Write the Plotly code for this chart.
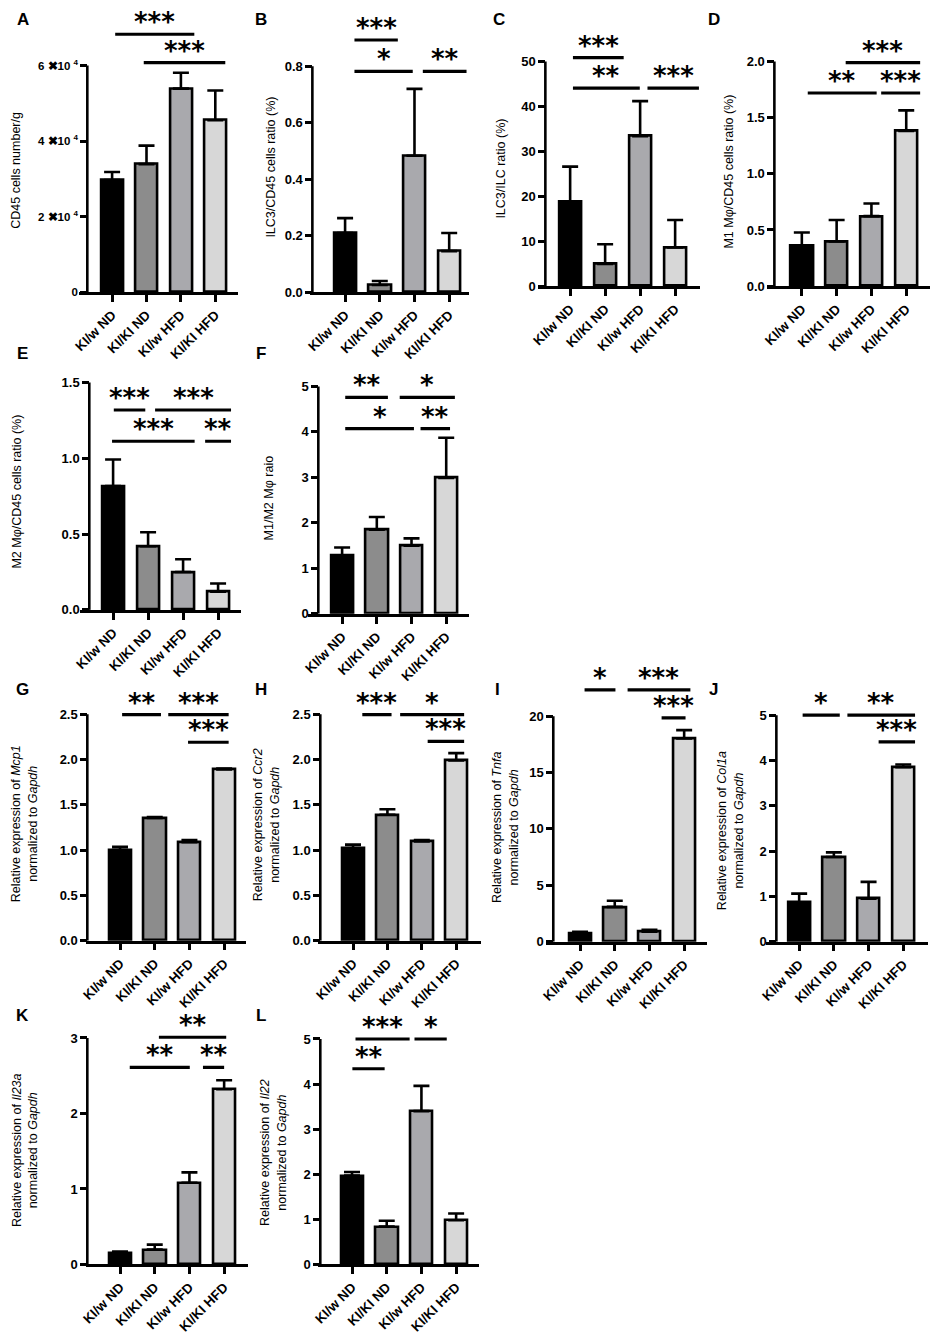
import plotly.graph_objects as go

W, H = 933, 1339
FONT = "Liberation Sans, Arial, sans-serif"

groups = ["KI/w ND", "KI/KI ND", "KI/w HFD", "KI/KI HFD"]
bar_colors = ["#000000", "#8c8c8c", "#a9a9ad", "#d7d7d7"]

# values: bar means and upper SEM
# significance brackets: (from group, to group, height, stars)
a_mean = [29700, 33900, 53900, 45500]
a_sem = [2100, 4900, 4200, 7900]
a_ticks = [0, 20000, 40000, 60000]
a_ticktext = ["0", "2 ✖10 <sup>4</sup>", "4 ✖10 <sup>4</sup>", "6 ✖10 <sup>4</sup>"]
a_sig = [(0.09, 2.39, 68300, "***"), (0.92, 3.29, 60800, "***")]

b_mean = [0.209, 0.025, 0.483, 0.145]
b_sem = [0.053, 0.014, 0.237, 0.064]
b_ticks = [0, 0.2, 0.4, 0.6, 0.8]
b_ticktext = ["0.0", "0.2", "0.4", "0.6", "0.8"]
b_sig = [(0.27, 1.52, 0.893, "***"), (0.27, 1.95, 0.782, "*"), (2.24, 3.5, 0.782, "**")]

c_mean = [18.9, 4.9, 33.4, 8.6]
c_sem = [7.7, 4.4, 7.8, 6.1]
c_ticks = [0, 10, 20, 30, 40, 50]
c_ticktext = ["0", "10", "20", "30", "40", "50"]
c_sig = [(0.08, 1.53, 50.9, "***"), (0.08, 1.99, 44.1, "**"), (2.21, 3.68, 44.1, "***")]

d_mean = [0.358, 0.397, 0.623, 1.382]
d_sem = [0.119, 0.191, 0.112, 0.183]
d_ticks = [0, 0.5, 1.0, 1.5, 2.0]
d_ticktext = ["0.0", "0.5", "1.0", "1.5", "2.0"]
d_sig = [(1.26, 3.4, 1.991, "***"), (0.17, 2.15, 1.72, "**"), (2.28, 3.4, 1.72, "***")]

e_mean = [0.817, 0.42, 0.25, 0.12]
e_sem = [0.175, 0.092, 0.084, 0.054]
e_ticks = [0, 0.5, 1.0, 1.5]
e_ticktext = ["0.0", "0.5", "1.0", "1.5"]
e_sig = [(0.02, 0.92, 1.318, "***"), (1.2, 3.37, 1.318, "***"),
         (-0.03, 2.33, 1.112, "***"), (2.63, 3.37, 1.112, "**")]

f_mean = [1.28, 1.85, 1.5, 2.99]
f_sem = [0.18, 0.28, 0.16, 0.88]
f_ticks = [0, 1, 2, 3, 4, 5]
f_ticktext = ["0", "1", "2", "3", "4", "5"]
f_sig = [(0.09, 1.32, 4.76, "**"), (1.66, 3.25, 4.76, "*"),
         (0.09, 2.07, 4.07, "*"), (2.26, 3.11, 4.07, "**")]

g_mean = [1.0, 1.354, 1.087, 1.89]
g_sem = [0.035, 0.011, 0.023, 0.01]
g_ticks = [0, 0.5, 1.0, 1.5, 2.0, 2.5]
g_ticktext = ["0.0", "0.5", "1.0", "1.5", "2.0", "2.5"]
g_sig = [(0.06, 1.18, 2.496, "**"), (1.39, 3.13, 2.496, "***"), (1.96, 3.13, 2.19, "***")]

h_mean = [1.022, 1.39, 1.095, 1.99]
h_sem = [0.038, 0.06, 0.015, 0.08]
h_ticks = [0, 0.5, 1.0, 1.5, 2.0, 2.5]
h_ticktext = ["0.0", "0.5", "1.0", "1.5", "2.0", "2.5"]
h_sig = [(0.27, 1.12, 2.496, "***"), (1.37, 3.23, 2.496, "*"), (2.17, 3.23, 2.2, "***")]

i_mean = [0.7, 3.08, 0.88, 18.03]
i_sem = [0.18, 0.55, 0.18, 0.73]
i_ticks = [0, 5, 10, 15, 20]
i_ticktext = ["0", "5", "10", "15", "20"]
i_sig = [(0.13, 1.02, 22.34, "*"), (1.37, 3.18, 22.34, "***"), (2.35, 3.04, 19.85, "***")]

j_mean = [0.86, 1.87, 0.95, 3.85]
j_sem = [0.2, 0.1, 0.37, 0.06]
j_ticks = [0, 1, 2, 3, 4, 5]
j_ticktext = ["0", "1", "2", "3", "4", "5"]
j_sig = [(0.1, 1.17, 5.0, "*"), (1.39, 3.34, 5.0, "**"), (2.29, 3.34, 4.41, "***")]

k_mean = [0.149, 0.197, 1.083, 2.32]
k_sem = [0.021, 0.066, 0.137, 0.12]
k_ticks = [0, 1, 2, 3]
k_ticktext = ["0", "1", "2", "3"]
k_sig = [(1.12, 3.06, 3.01, "**"), (0.28, 2.01, 2.61, "**"), (2.39, 3.0, 2.61, "**")]

l_mean = [1.97, 0.84, 3.4, 0.98]
l_sem = [0.08, 0.13, 0.56, 0.15]
l_ticks = [0, 1, 2, 3, 4, 5]
l_ticktext = ["0", "1", "2", "3", "4", "5"]
l_sig = [(0.1, 1.66, 5.0, "***"), (1.8, 2.73, 5.0, "*"), (0.01, 0.94, 4.34, "**")]


def rel(gene):
    return f"Relative expression of <i>{gene}</i><br>normalized to <i>Gapdh</i>"


panels = [
    ("A", "CD45 cells number/g", a_mean, a_sem, a_ticks, a_ticktext, a_sig),
    ("B", "ILC3/CD45 cells ratio (%)", b_mean, b_sem, b_ticks, b_ticktext, b_sig),
    ("C", "ILC3/ILC ratio (%)", c_mean, c_sem, c_ticks, c_ticktext, c_sig),
    ("D", "M1 Mφ/CD45 cells ratio (%)", d_mean, d_sem, d_ticks, d_ticktext, d_sig),
    ("E", "M2 Mφ/CD45 cells ratio (%)", e_mean, e_sem, e_ticks, e_ticktext, e_sig),
    ("F", "M1/M2 Mφ raio", f_mean, f_sem, f_ticks, f_ticktext, f_sig),
    ("G", rel("Mcp1"), g_mean, g_sem, g_ticks, g_ticktext, g_sig),
    ("H", rel("Ccr2"), h_mean, h_sem, h_ticks, h_ticktext, h_sig),
    ("I", rel("Tnfa"), i_mean, i_sem, i_ticks, i_ticktext, i_sig),
    ("J", rel("Col1a"), j_mean, j_sem, j_ticks, j_ticktext, j_sig),
    ("K", rel("Il23a"), k_mean, k_sem, k_ticks, k_ticktext, k_sig),
    ("L", rel("Il22"), l_mean, l_sem, l_ticks, l_ticktext, l_sig),
]

# layout of each panel in pixels:
# y-axis x, zero line y, top tick y, top of plot area, x-line left/right,
# first bar centre, bar spacing, y-title centre, letter centre, y tick font size
geom = [
    dict(yx=80, zero=293, top=65, dtop=27, xl=72, xr=232, c0=105, d=34.7, tt=(8, 170), lt=(15, 19), yts=11.5),
    dict(yx=307, zero=293, top=65.7, dtop=33, xl=305, xr=465, c0=340, d=35, tt=(265, 167), lt=(255, 19), yts=13),
    dict(yx=542, zero=287, top=61, dtop=50, xl=535, xr=698, c0=567, d=35.3, tt=(497, 169), lt=(495, 19), yts=13),
    dict(yx=773, zero=287, top=61, dtop=55, xl=766, xr=930, c0=800.7, d=35.1, tt=(727, 172), lt=(712, 19), yts=13),
    dict(yx=82, zero=613, top=384, dtop=378, xl=73, xr=235, c0=106, d=35.3, tt=(9, 494), lt=(15, 355), yts=13),
    dict(yx=313, zero=617, top=388, dtop=382, xl=303, xr=465, c0=337, d=35, tt=(263, 500), lt=(255, 355), yts=13),
    dict(yx=80, zero=946, top=718, dtop=712, xl=79, xr=240, c0=113, d=35, tt=(17, 828), lt=(15, 693), yts=13),
    dict(yx=315, zero=946, top=718, dtop=712, xl=313, xr=477, c0=348, d=34.7, tt=(261, 829), lt=(255, 693), yts=13),
    dict(yx=550, zero=947, top=720, dtop=687, xl=543, xr=705, c0=577, d=35, tt=(502, 832), lt=(494, 693), yts=13),
    dict(yx=775, zero=947, top=719, dtop=713, xl=765, xr=928, c0=798, d=35, tt=(729, 835), lt=(712, 693), yts=13),
    dict(yx=80, zero=1272, top=1044, dtop=1037, xl=79, xr=242, c0=113, d=35, tt=(17, 1157), lt=(15, 1021), yts=13),
    dict(yx=315, zero=1272, top=1045, dtop=1039, xl=313, xr=475, c0=347, d=35, tt=(268, 1159), lt=(255, 1021), yts=13),
]

fig = go.Figure()
layout = {}
shapes = []
annotations = []
xi = list(range(len(groups)))

for k, ((letter, ytitle, mean, sem, ticks, ticktext, sig), g) in enumerate(zip(panels, geom), start=1):
    xa = "x" if k == 1 else f"x{k}"
    ya = "y" if k == 1 else f"y{k}"

    fig.add_trace(go.Bar(
        x=xi, y=mean, width=0.64, xaxis=xa, yaxis=ya,
        marker=dict(color=bar_colors, line=dict(color="black", width=2.6)),
        error_y=dict(type="data", symmetric=False, array=sem, arrayminus=[0] * len(sem),
                     color="black", thickness=2.6, width=8),
        showlegend=False, hoverinfo="skip",
    ))

    for x0, x1, yv, stars in sig:
        fig.add_trace(go.Scatter(
            x=[x0, x1], y=[yv, yv], mode="lines", xaxis=xa, yaxis=ya,
            line=dict(color="black", width=3.2), showlegend=False, hoverinfo="skip",
        ))
        annotations.append(dict(
            x=(x0 + x1) / 2, y=yv, xref=xa, yref=ya, text=stars, showarrow=False,
            xanchor="center", yanchor="bottom", yshift=-5,
            font=dict(family="DejaVu Sans", size=26, color="black", weight="bold"),
        ))

    top_val = ticks[-1]
    ymax = top_val * (g["zero"] - g["dtop"]) / (g["zero"] - g["top"])
    layout["xaxis" if k == 1 else f"xaxis{k}"] = dict(
        domain=[g["xl"] / W, g["xr"] / W],
        range=[(g["xl"] - g["c0"]) / g["d"], (g["xr"] - g["c0"]) / g["d"]],
        anchor=ya, tickmode="array", tickvals=xi, ticktext=groups, tickangle=-45,
        ticks="outside", ticklen=7, tickwidth=2.6, tickcolor="black",
        showline=True, linewidth=2.6, linecolor="black",
        showgrid=False, zeroline=False,
        tickfont=dict(family=FONT, size=13.5, color="black", weight="bold"),
    )
    layout["yaxis" if k == 1 else f"yaxis{k}"] = dict(
        domain=[1 - g["zero"] / H, 1 - g["dtop"] / H],
        range=[0, ymax], anchor="free", position=g["yx"] / W,
        tickmode="array", tickvals=ticks, ticktext=ticktext,
        ticks="outside", ticklen=7, tickwidth=2.6, tickcolor="black",
        showline=False, showgrid=False, zeroline=False,
        tickfont=dict(family=FONT, size=g["yts"], color="black", weight="bold"),
    )
    # y axis line stops at the top tick
    shapes.append(dict(
        type="line", xref="paper", yref=ya, x0=g["yx"] / W, x1=g["yx"] / W,
        y0=0, y1=top_val, line=dict(color="black", width=2.6),
    ))

    annotations.append(dict(
        x=g["tt"][0] / W, y=1 - g["tt"][1] / H, xref="paper", yref="paper",
        text=ytitle, textangle=-90, showarrow=False, xanchor="center", yanchor="middle",
        font=dict(family=FONT, size=12.5, color="black"),
    ))
    annotations.append(dict(
        x=g["lt"][0] / W, y=1 - g["lt"][1] / H, xref="paper", yref="paper",
        text=letter, showarrow=False, xanchor="center", yanchor="middle",
        font=dict(family=FONT, size=17, color="black", weight="bold"),
    ))

fig.update_layout(
    width=W, height=H, margin=dict(l=0, r=0, t=0, b=0),
    paper_bgcolor="white", plot_bgcolor="white",
    showlegend=False, bargap=0,
    shapes=shapes, annotations=annotations,
    **layout,
)

# page body has a default 8px margin; drop it so the figure fills the window
fig.write_html("out.html", config={"displayModeBar": False},
               post_script="document.body.style.margin = '0';")
